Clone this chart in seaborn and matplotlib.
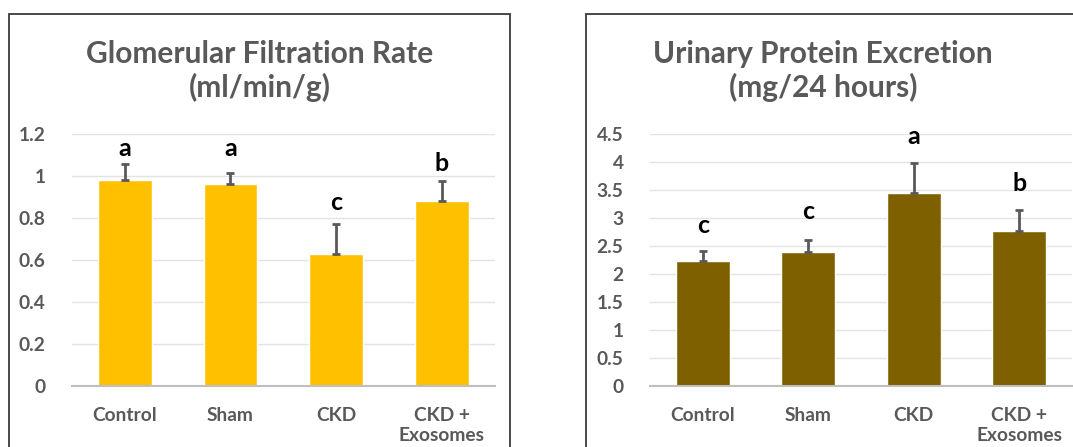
import matplotlib
matplotlib.use("Agg")
import matplotlib.pyplot as plt
import seaborn as sns
import pandas as pd
import numpy as np
from matplotlib.patches import Rectangle

# ---- data ----
categories = ["Control", "Sham", "CKD", "CKD +\nExosomes"]
gfr_values = [0.98, 0.96, 0.63, 0.88]
gfr_errors = [0.075, 0.055, 0.14, 0.095]
gfr_letters = ["a", "a", "c", "b"]
gfr_letter_y = [1.095, 1.095, 0.838, 1.025]
gfr_ticks = [0, 0.2, 0.4, 0.6, 0.8, 1, 1.2]
gfr_ticklabels = ["0", "0.2", "0.4", "0.6", "0.8", "1", "1.2"]

upe_values = [2.24, 2.39, 3.44, 2.77]
upe_errors = [0.17, 0.21, 0.54, 0.37]
upe_letters = ["c", "c", "a", "b"]
upe_letter_y = [2.74, 2.98, 4.32, 3.48]
upe_ticks = [0, 0.5, 1, 1.5, 2, 2.5, 3, 3.5, 4, 4.5]
upe_ticklabels = ["0", "0.5", "1", "1.5", "2", "2.5", "3", "3.5", "4", "4.5"]

titles = ["Glomerular Filtration Rate\n(ml/min/g)", "Urinary Protein Excretion\n(mg/24 hours)"]

sns.set_theme(style="white")
plt.rcParams["font.family"] = ["Lato", "DejaVu Sans"]

W, H = 1073, 447
fig = plt.figure(figsize=(W / 100, H / 100), dpi=100)

def px_axes(x0, x1, y0, y1):
    # y0 top, y1 bottom in pixels
    return fig.add_axes([x0 / W, 1 - y1 / H, (x1 - x0) / W, (y1 - y0) / H])

ax1 = px_axes(72, 494.5, 134, 386)
ax2 = px_axes(650, 1072, 134, 386)

grey = "#595959"

def draw(ax, values, errors, letters, letter_y, ticks, ticklabels, color, ymax):
    df = pd.DataFrame({"cat": categories, "val": values})
    sns.barplot(data=df, x="cat", y="val", ax=ax, color=color, saturation=1,
                width=0.51, errorbar=None, zorder=3)
    x = np.arange(len(values))
    ax.errorbar(x, values, yerr=[np.zeros(len(errors)), errors], fmt="none",
                ecolor=grey, elinewidth=2, capsize=3.0, capthick=2, zorder=4)
    for xi, lt, ly in zip(x, letters, letter_y):
        ax.text(xi, ly, lt, ha="center", va="baseline", fontsize=18,
                fontweight="bold", color="black", zorder=5)
    ax.set_ylim(0, ymax)
    ax.set_xlim(-0.5, len(values) - 0.5)
    ax.set_yticks(ticks)
    ax.set_yticklabels(ticklabels)
    ax.yaxis.grid(True, color="#E3E3E3", linewidth=1, zorder=0)
    ax.set_axisbelow(True)
    for s in ["top", "right", "left"]:
        ax.spines[s].set_visible(False)
    ax.spines["bottom"].set_color("#BFBFBF")
    ax.spines["bottom"].set_linewidth(1.5)
    ax.spines["bottom"].set_zorder(6)
    ax.set_xlabel("")
    ax.set_ylabel("")
    ax.tick_params(axis="both", length=0, colors=grey)
    ax.tick_params(axis="y", pad=19)
    ax.tick_params(axis="x", pad=15)
    for lab in ax.get_xticklabels() + ax.get_yticklabels():
        lab.set_fontweight("bold")
        lab.set_fontsize(13.8)
        lab.set_color(grey)
    for lab in ax.get_xticklabels():
        lab.set_linespacing(1.24)
    ax.set_facecolor("none")

draw(ax1, gfr_values, gfr_errors, gfr_letters, gfr_letter_y, gfr_ticks,
     gfr_ticklabels, "#FFC000", 1.2)
draw(ax2, upe_values, upe_errors, upe_letters, upe_letter_y, upe_ticks,
     upe_ticklabels, "#7F6000", 4.5)

# panel borders
for (x0, x1) in [(9, 510), (586, 1090)]:
    r = Rectangle((x0 / W, -20 / H), (x1 - x0) / W, (H - 14 + 20) / H,
                  transform=fig.transFigure, fill=False, edgecolor="#3A3A3A",
                  linewidth=1.3, clip_on=False, zorder=0)
    fig.patches.append(r)

# titles
for xc, t in zip([259.5, 823], titles):
    fig.text(xc / W, 1 - 71 / H, t, ha="center", va="center", fontsize=21.5,
             fontweight="bold", color=grey, linespacing=1.22)

fig.savefig("out.png", dpi=100)
